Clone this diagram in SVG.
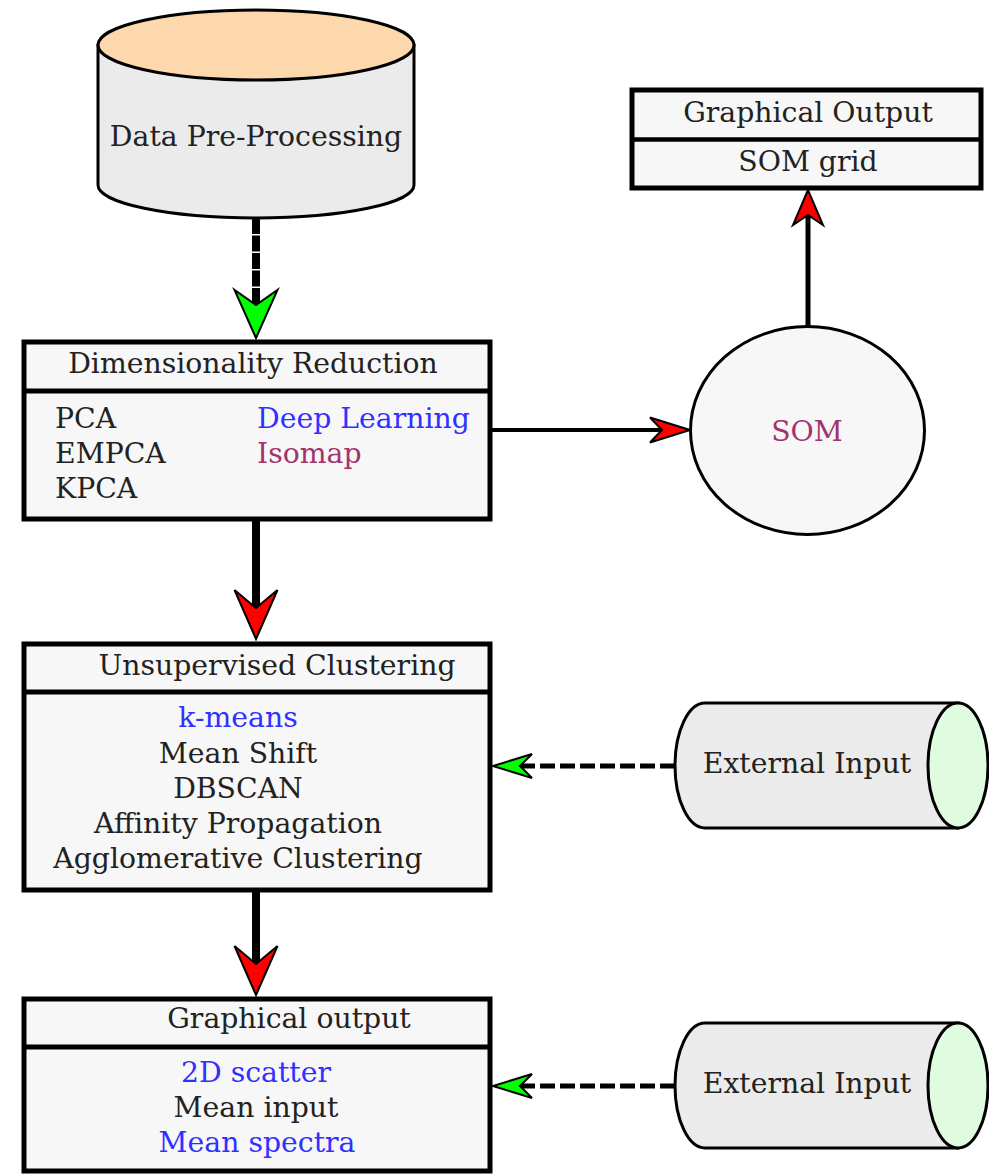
<svg xmlns="http://www.w3.org/2000/svg" width="989" height="1175" viewBox="0 0 989 1175">
<defs>
<style>
text{font-family:"DejaVu Serif","Liberation Serif",serif;font-size:28.3px;fill:#222}
.c{text-anchor:middle}
.blue{fill:#3030ff}
.purple{fill:#a3336d}
.box{fill:#f7f7f7;stroke:#000;stroke-width:5}
.cyl{fill:#ebebeb;stroke:#000;stroke-width:3}
.head{stroke:#000;stroke-width:2;stroke-linejoin:miter}
</style>
<marker id="bigRed" markerUnits="userSpaceOnUse" markerWidth="10" markerHeight="10" refX="0" refY="0" orient="auto" overflow="visible"><path class="head" fill="#ff0000" d="M31,0 L-18,-21.5 L0,0 L-18,21.5 Z"/></marker>
<marker id="bigGreen" markerUnits="userSpaceOnUse" markerWidth="10" markerHeight="10" refX="0" refY="0" orient="auto" overflow="visible"><path class="head" fill="#00ff00" d="M33,0 L-15,-21.5 L0,0 L-15,21.5 Z"/></marker>
<marker id="midRed" markerUnits="userSpaceOnUse" markerWidth="10" markerHeight="10" refX="0" refY="0" orient="auto" overflow="visible"><path class="head" fill="#ff0000" d="M28,0 L-12,-12.5 L0,0 L-12,12.5 Z"/></marker>
<marker id="midGreen" markerUnits="userSpaceOnUse" markerWidth="10" markerHeight="10" refX="0" refY="0" orient="auto" overflow="visible"><path class="head" fill="#00ff00" d="M27,0 L-12,-12 L0,0 L-12,12 Z"/></marker>
<marker id="smallRed" markerUnits="userSpaceOnUse" markerWidth="10" markerHeight="10" refX="0" refY="0" orient="auto" overflow="visible"><path class="head" fill="#ff0000" d="M25,0 L-10,-15 L0,0 L-10,15 Z"/></marker>
</defs>

<g id="connectors" fill="none" stroke="#000">
<line x1="256" y1="218" x2="256" y2="305" stroke-width="8" stroke-dasharray="16,1.5" marker-end="url(#bigGreen)"/>
<line x1="256" y1="521" x2="256" y2="608" stroke-width="8" marker-end="url(#bigRed)"/>
<line x1="256" y1="892" x2="256" y2="964" stroke-width="8" marker-end="url(#bigRed)"/>
<line x1="490" y1="430" x2="662" y2="430" stroke-width="4" marker-end="url(#midRed)"/>
<line x1="808" y1="326" x2="808" y2="215" stroke-width="5" marker-end="url(#smallRed)"/>
<line x1="675" y1="766" x2="520" y2="766" stroke-width="5" stroke-dasharray="15,5" marker-end="url(#midGreen)"/>
<line x1="675" y1="1086" x2="520" y2="1086" stroke-width="5" stroke-dasharray="15,5" marker-end="url(#midGreen)"/>
</g>

<g id="data-preprocessing">
<path class="cyl" d="M98,45 L98,185 A158,33 0 0 0 414,185 L414,45 Z"/>
<ellipse cx="256" cy="45" rx="158" ry="35" fill="#fdd8ad" stroke="#000" stroke-width="3"/>
<text class="c" x="256" y="146">Data Pre-Processing</text>
</g>

<g id="graphical-output-som">
<rect class="box" x="632" y="90" width="349" height="98" stroke-width="4.5"/>
<line x1="632" y1="139.5" x2="981" y2="139.5" stroke="#000" stroke-width="4.5"/>
<text class="c" x="808" y="122">Graphical Output</text>
<text class="c" x="808" y="171">SOM grid</text>
</g>

<g id="dimensionality-reduction">
<rect class="box" x="24" y="342" width="466" height="177"/>
<line x1="24" y1="391" x2="490" y2="391" stroke="#000" stroke-width="5"/>
<text class="c" x="253" y="373">Dimensionality Reduction</text>
<text x="55" y="428">PCA</text>
<text x="55" y="463">EMPCA</text>
<text x="55" y="498">KPCA</text>
<text class="blue" x="257" y="428">Deep Learning</text>
<text class="purple" x="257" y="463">Isomap</text>
</g>

<g id="som">
<ellipse cx="807.5" cy="430.5" rx="117" ry="104" fill="#f7f7f7" stroke="#000" stroke-width="3"/>
<text class="c purple" x="807" y="441">SOM</text>
</g>

<g id="unsupervised-clustering">
<rect class="box" x="24" y="644" width="466" height="246"/>
<line x1="24" y1="692" x2="490" y2="692" stroke="#000" stroke-width="5"/>
<text class="c" x="277" y="675">Unsupervised Clustering</text>
<text class="c blue" x="238" y="727">k-means</text>
<text class="c" x="238" y="763">Mean Shift</text>
<text class="c" x="238" y="798">DBSCAN</text>
<text class="c" x="238" y="833">Affinity Propagation</text>
<text class="c" x="238" y="868">Agglomerative Clustering</text>
</g>

<g id="external-input-1">
<path class="cyl" d="M705,703 A30,62.5 0 0 0 705,828 L958,828 L958,703 Z"/>
<ellipse cx="958" cy="765.5" rx="30" ry="62.5" fill="#e0fce0" stroke="#000" stroke-width="3"/>
<text class="c" x="807" y="773">External Input</text>
</g>

<g id="graphical-output">
<rect class="box" x="24" y="999" width="466" height="172"/>
<line x1="24" y1="1047" x2="490" y2="1047" stroke="#000" stroke-width="5"/>
<text class="c" x="289" y="1028">Graphical output</text>
<text class="c blue" x="256" y="1082">2D scatter</text>
<text class="c" x="256" y="1117">Mean input</text>
<text class="c blue" x="257" y="1152">Mean spectra</text>
</g>

<g id="external-input-2">
<path class="cyl" d="M705,1023 A30,62.5 0 0 0 705,1148 L958,1148 L958,1023 Z"/>
<ellipse cx="958" cy="1085.5" rx="30" ry="62.5" fill="#e0fce0" stroke="#000" stroke-width="3"/>
<text class="c" x="807" y="1093">External Input</text>
</g>
</svg>
